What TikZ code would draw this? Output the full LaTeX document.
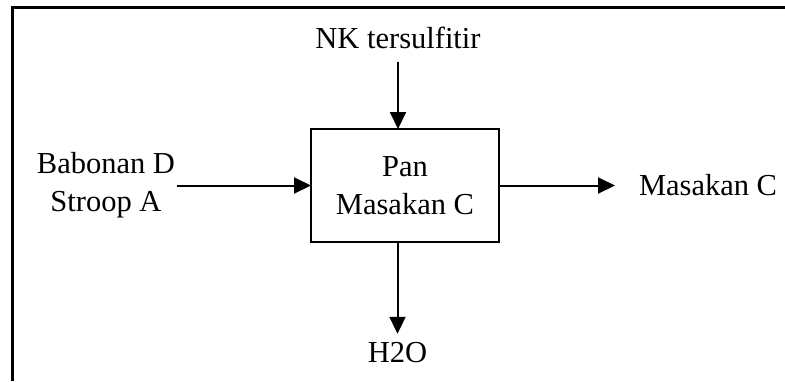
\documentclass[tikz,border=0pt]{standalone}
\usepackage{fontspec}
\setmainfont{Liberation Serif}
\usetikzlibrary{arrows.meta}
\begin{document}
\begin{tikzpicture}[x=1pt,y=-1pt,
  every node/.style={font=\fontsize{30.5}{38}\selectfont, inner sep=0pt, outer sep=0pt},
  lbl/.style={align=center},
  procbox/.style={draw, line width=1.8pt, minimum width=188pt, minimum height=113pt, align=center},
  arr/.style={line width=2pt, -{Triangle[length=17pt,width=16pt]}},
  frame/.style={line width=3pt}]
\useasboundingbox (0,0) rectangle (785,381);
\draw[frame] (12,381) -- (12,7) -- (785,7);
\node[procbox] (pan) at (405,185.5) {Pan\\Masakan C};
\node[lbl, anchor=base] (nk) at (398,48) {NK tersulfitir};
\node[lbl, anchor=east, inner sep=2pt] (bab) at (177,185.5) {Babonan D\\Stroop A};
\node[lbl, anchor=base west] (out) at (639,195) {Masakan C};
\node[lbl, anchor=base] (h2o) at (397.5,362) {H2O};
\draw[arr] ([yshift=-14pt]nk.south) -- (nk.south |- pan.north);
\draw[arr] (bab.east |- pan.west) -- (pan.west);
\draw[arr] (pan.east) -- (out.west |- pan.east) [shorten >=24pt];
\draw[arr] (h2o.north |- pan.south) -- (h2o.north) [shorten >=8pt];
\end{tikzpicture}
\end{document}
